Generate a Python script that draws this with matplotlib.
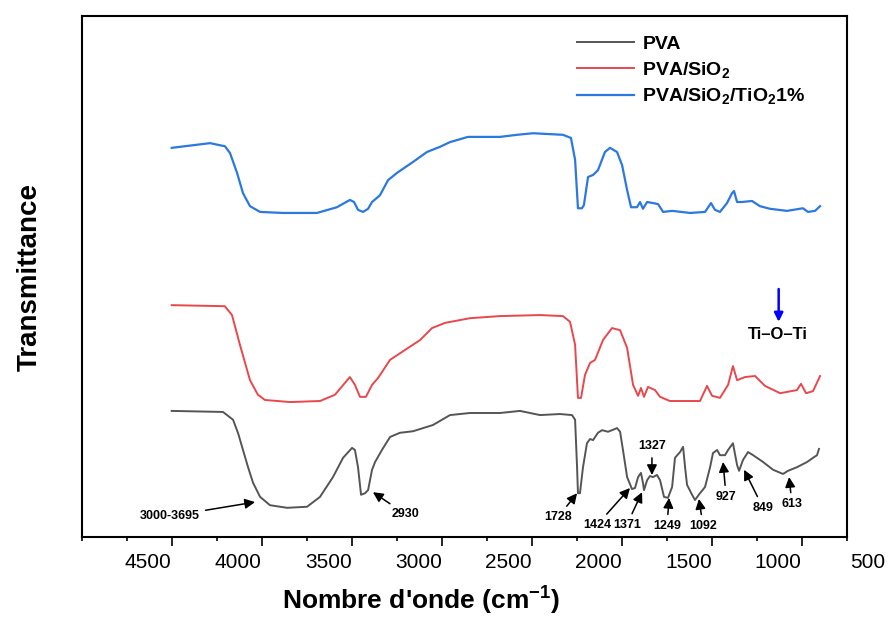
import numpy as np
import matplotlib
matplotlib.use("Agg")
import matplotlib.pyplot as plt
from matplotlib.ticker import MultipleLocator

plt.rcParams['font.family'] = ['Liberation Sans', 'DejaVu Sans']
plt.rcParams['mathtext.fontset'] = 'custom'
plt.rcParams['mathtext.rm'] = 'Liberation Sans:bold'
plt.rcParams['mathtext.default'] = 'rm'

#### Spectra (wavenumber, transmittance a.u.)
pva_x = [4500, 4215, 4159, 4130, 4104, 4075, 4048, 4009, 3954, 3859, 3748, 3676, 3604, 3548, 3498, 3482,
         3465, 3448, 3426, 3409, 3387, 3370, 3332, 3287, 3232, 3159, 3048, 2954, 2843, 2676,
         2565, 2454, 2343, 2276, 2259, 2248, 2243, 2232, 2215, 2193, 2176, 2159, 2132, 2109,
         2076, 2054, 2026, 2009, 1993, 1970, 1943, 1926, 1909, 1893, 1882, 1876, 1859, 1843,
         1826, 1804, 1787, 1765, 1743, 1720, 1704, 1676, 1659, 1648, 1637, 1609, 1593, 1565,
         1537, 1509, 1493, 1470, 1454, 1426, 1409, 1382, 1359, 1348, 1326, 1298, 1270, 1215,
         1159, 1104, 1076, 1026, 970, 937, 915, 904]
pva_y = [24.2, 24.0, 22.5, 19.8, 16.7, 13.3, 10.4, 7.7, 6.1, 5.6, 5.8, 7.7, 11.5, 15.2, 17.1, 16.7,
         13.4, 8.1, 8.4, 9.0, 12.9, 14.4, 16.7, 19.2, 20.0, 20.3, 21.5, 23.4, 23.8, 23.8,
         24.2, 23.4, 23.6, 23.4, 22.5, 13.4, 8.4, 8.4, 13.4, 18.0, 18.8, 18.6, 20.0, 20.5,
         20.2, 20.5, 20.9, 20.2, 16.7, 11.5, 9.2, 9.4, 11.5, 12.3, 10.4, 9.0, 10.9, 11.7,
         11.5, 11.9, 10.9, 7.7, 7.5, 9.6, 15.2, 16.3, 17.3, 13.4, 10.0, 8.1, 7.1, 8.4,
         9.6, 13.4, 16.1, 16.7, 15.7, 15.7, 16.7, 18.0, 13.8, 12.7, 14.8, 16.3, 15.7, 14.4,
         12.9, 12.1, 12.7, 13.4, 14.4, 15.2, 15.7, 16.9]

sio2_x = [4500, 4205, 4165, 4121, 4065, 4021, 3982, 3843, 3676, 3593, 3537, 3510, 3482, 3454,
          3421, 3387, 3354, 3287, 3204, 3120, 3054, 2981, 2843, 2676, 2454, 2326, 2287, 2259,
          2243, 2226, 2204, 2176, 2148, 2104, 2054, 2009, 1970, 1937, 1909, 1893, 1876, 1854,
          1815, 1787, 1732, 1565, 1526, 1498, 1454, 1409, 1382, 1359, 1315, 1259, 1204, 1120,
          1026, 1004, 976, 937, 898]
sio2_y = [44.5, 44.3, 42.6, 36.9, 30.1, 27.3, 26.3, 25.9, 26.1, 27.3, 29.6, 30.7, 29.2, 26.9,
          26.9, 29.2, 30.5, 34.0, 35.9, 37.8, 40.1, 41.1, 42.0, 42.4, 42.6, 42.4, 41.3, 36.9,
          26.7, 26.7, 31.1, 33.4, 34.0, 37.8, 40.1, 39.7, 36.3, 29.2, 27.1, 28.6, 26.9, 28.8,
          28.2, 26.9, 26.1, 26.1, 29.0, 27.1, 26.7, 29.2, 32.8, 30.1, 30.7, 30.9, 29.0, 27.6,
          28.2, 29.4, 27.6, 28.0, 30.9]

tio2_x = [4500, 4287, 4204, 4176, 4137, 4104, 4065, 4009, 3882, 3693, 3582, 3510, 3487, 3465,
          3437, 3409, 3387, 3343, 3298, 3248, 3159, 3082, 3009, 2954, 2854, 2676, 2582, 2493,
          2326, 2282, 2259, 2243, 2221, 2210, 2187, 2159, 2132, 2093, 2065, 2026, 1998, 1970,
          1948, 1915, 1898, 1882, 1859, 1826, 1798, 1770, 1720, 1620, 1537, 1504, 1482, 1454,
          1415, 1387, 1376, 1359, 1332, 1276, 1232, 1176, 1082, 993, 965, 926, 898]
tio2_y = [74.7, 75.6, 75.0, 73.7, 69.9, 66.0, 63.5, 62.4, 62.2, 62.2, 63.3, 64.7, 64.3, 62.8,
          62.4, 63.0, 64.3, 65.6, 68.5, 69.9, 72.0, 73.9, 74.9, 75.8, 76.8, 76.8, 77.2, 77.5,
          77.2, 76.6, 72.4, 63.1, 63.1, 63.7, 69.1, 69.5, 70.4, 73.9, 74.7, 73.9, 71.4, 66.6,
          63.3, 63.3, 64.3, 63.0, 64.3, 64.1, 63.9, 62.4, 62.6, 62.2, 62.4, 64.1, 62.8, 62.4,
          64.1, 66.0, 66.4, 64.3, 64.3, 64.5, 63.5, 63.0, 62.6, 63.1, 62.4, 62.6, 63.5]

labels = ['PVA', 'PVA/SiO$_2$', 'PVA/SiO$_2$/TiO$_2$1%']
colors = ['#555555', '#e8474c', '#2a78e0']

# peak labels: text, (text x, text y), (tip x, tip y)
peaks = [('3000-3695', (4509, 4.0), (4037, 6.7)),
         ('2930', (3203, 4.4), (3382, 8.6)),
         ('1728', (2354, 3.8), (2248, 8.4)),
         ('1424', (2137, 2.3), (1954, 9.4)),
         ('1371', (1972, 2.3), (1887, 8.6)),
         ('1327', (1832, 17.4), (1832, 11.9)),
         ('1249', (1748, 2.1), (1737, 7.5)),
         ('1092', (1548, 2.1), (1571, 7.3)),
         ('927', (1420, 7.7), (1437, 14.4)),
         ('849', (1215, 5.6), (1320, 12.9)),
         ('613', (1054, 6.3), (1070, 11.5))]

fig = plt.figure(figsize=(8.88, 6.17), dpi=100)
ax = fig.add_axes([0.092, 0.1297, 0.8615, 0.8443])

ax.plot(pva_x, pva_y, color=colors[0], lw=1.4, label=labels[0])
ax.plot(sio2_x, sio2_y, color=colors[1], lw=1.4, label=labels[1])
ax.plot(tio2_x, tio2_y, color=colors[2], lw=1.6, label=labels[2])

for txt, xyt, xy in peaks:
    ax.annotate(txt, xy=xy, xytext=xyt, ha='center', va='center',
                fontsize=9, fontweight='bold',
                arrowprops=dict(arrowstyle='-|>', color='black', lw=1.1,
                                mutation_scale=15, shrinkA=2, shrinkB=0))

# Ti-O-Ti marker
ax.text(1131, 38.8, 'Ti\u2013O\u2013Ti', ha='center', va='center', fontsize=12, fontweight='bold')
ax.annotate('', xy=(1128, 41.3), xytext=(1128, 47.6),
            arrowprops=dict(arrowstyle='-|>', color='blue', lw=1.8, mutation_scale=13, shrinkA=0, shrinkB=0))

ax.set_xlim(5000, 750)
ax.set_ylim(0, 100)
ax.set_yticks([])
ax.xaxis.set_minor_locator(MultipleLocator(250))
ax.set_xticks(np.arange(4500, 999, -500))
ax.tick_params(axis='x', which='major', direction='out', length=6.5, width=1.2, labelsize=15, pad=5)
ax.tick_params(axis='x', which='minor', direction='out', length=3.2, width=1.2)
plt.setp(ax.get_xticklabels(), ha='right')
ax.annotate('500', xy=(535, 0), xycoords=('data', 'axes fraction'), xytext=(0, -11.5),
            textcoords='offset points', ha='right', va='top', fontsize=15, annotation_clip=False)
for s in ax.spines.values():
    s.set_linewidth(1.5)

ax.set_xlabel("Nombre d'onde (cm$^{-1}$)", fontsize=19, fontweight='bold')
ax.xaxis.set_label_coords(0.4435, -0.092)
ax.set_ylabel('Transmittance', fontsize=20, fontweight='bold', labelpad=28)

ax.legend(loc='upper left', bbox_to_anchor=(0.625, 0.997), frameon=False,
          prop={'weight': 'bold', 'size': 14}, handlelength=2.9, handletextpad=0.45,
          labelspacing=0.35)

plt.savefig('out.png', dpi=100)
